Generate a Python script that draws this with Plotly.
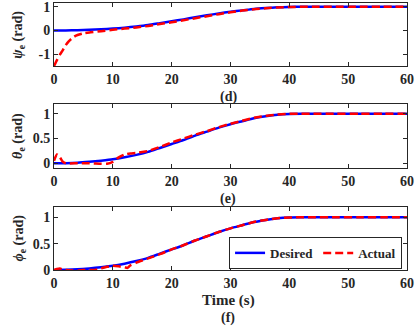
import plotly.graph_objects as go
from plotly.subplots import make_subplots

# desired trajectory (same for all three angles)
t_des = [0, 2, 4, 6, 8, 10, 12, 14, 16, 18, 20, 22, 24, 26, 28, 30, 32, 34, 36, 38, 40, 42, 44, 48, 52, 56, 60]
desired = [0, 0.003, 0.012, 0.03, 0.053, 0.08, 0.12, 0.17, 0.23, 0.31, 0.39, 0.47, 0.56, 0.64, 0.72, 0.79,
           0.85, 0.91, 0.95, 0.98, 0.995, 1.0, 1.0, 1.0, 1.0, 1.0, 1.0]

# actual psi_e
t_psi = [0, 0.5, 1, 1.5, 2, 2.5, 3, 3.5, 4, 5, 6, 8, 10, 12, 14, 16, 18, 20, 22, 24, 26, 28, 30, 32, 34, 36,
         38, 40, 42, 44, 48, 52, 56, 60]
psi_act = [-1.5, -1.25, -1.02, -0.83, -0.62, -0.46, -0.34, -0.25, -0.19, -0.12, -0.08, -0.03, 0.03, 0.08,
           0.13, 0.19, 0.27, 0.35, 0.43, 0.52, 0.6, 0.69, 0.77, 0.84, 0.9, 0.94, 0.975, 0.99, 1.0, 1.0, 1.0,
           1.0, 1.0, 1.0]

# actual theta_e
t_theta = [0, 0.5, 1, 1.5, 2, 4, 6, 8, 9, 10, 11, 12, 13, 14, 16, 18, 20, 22, 24, 26, 28, 30, 32, 34, 36,
           38, 40, 42, 44, 48, 52, 56, 60]
theta_act = [0.05, 0.18, 0.12, 0.03, 0.0, 0.0, 0.0, -0.01, -0.01, 0.03, 0.12, 0.18, 0.2, 0.21, 0.25, 0.33,
             0.42, 0.5, 0.58, 0.65, 0.73, 0.8, 0.86, 0.92, 0.96, 0.985, 1.0, 1.0, 1.0, 1.0, 1.0, 1.0, 1.0]

# actual phi_e
t_phi = [0, 0.5, 1, 1.5, 2, 3, 4, 5, 6, 7, 8, 9, 10, 11, 12, 12.5, 13, 14, 16, 18, 20, 22, 24, 26, 28, 30,
         32, 34, 36, 38, 40, 42, 44, 48, 52, 56, 60]
phi_act = [0.0, 0.02, 0.03, 0.01, 0.0, -0.01, -0.01, 0.0, 0.0, 0.0, 0.03, 0.06, 0.08, 0.07, 0.05, 0.04,
           0.09, 0.14, 0.22, 0.3, 0.39, 0.47, 0.56, 0.64, 0.72, 0.79, 0.85, 0.91, 0.95, 0.98, 0.995, 1.0,
           1.0, 1.0, 1.0, 1.0, 1.0]

panels = [
    (t_psi, psi_act, [-1.5, 1.15], [-1, 0, 1], ["-1", "0", "1"], "<i>ψ</i><sub>e</sub> (rad)", "(d)", -31),
    (t_theta, theta_act, [-0.09, 1.2], [0, 0.5, 1], ["0", "0.5", "1"], "<i>θ</i><sub>e</sub> (rad)", "(e)", -31),
    (t_phi, phi_act, [0, 1.2], [0, 0.5, 1], ["0", "0.5", "1"], "<i>ϕ</i><sub>e</sub> (rad)", "(f)", -48),
]

FONT = "Liberation Serif"
fig = make_subplots(rows=3, cols=1)
domains = [[0.764, 0.999], [0.383, 0.622], [0.0, 0.237]]

for i, (tt, act, yr, tv, tt_text, ylab, tag, tag_shift) in enumerate(panels):
    row = i + 1
    fig.add_trace(go.Scatter(x=t_des, y=desired, mode="lines", name="Desired",
                             line=dict(color="#0000ff", width=2.5, shape="spline", smoothing=0.6),
                             showlegend=(i == 2)), row=row, col=1)
    fig.add_trace(go.Scatter(x=tt, y=act, mode="lines", name="Actual",
                             line=dict(color="#ff0000", width=2.5, dash="8px,4px", shape="spline", smoothing=0.6),
                             showlegend=(i == 2)), row=row, col=1)
    fig.update_xaxes(range=[0, 60], tickvals=[0, 10, 20, 30, 40, 50, 60], row=row, col=1)
    fig.update_yaxes(range=yr, tickvals=tv, ticktext=tt_text, domain=domains[i], row=row, col=1)
    d = domains[i]
    fig.add_annotation(x=-0.099, y=(d[0] + d[1]) / 2, xref="paper", yref="paper", text=ylab,
                       textangle=-90, showarrow=False, xanchor="center", yanchor="middle",
                       font=dict(family=FONT, size=14, color="#262626", weight="bold"))
    fig.add_annotation(x=0.493, y=d[0], xref="paper", yref="paper", yshift=tag_shift, text=tag,
                       showarrow=False, xanchor="center", yanchor="middle",
                       font=dict(family=FONT, size=14, color="#262626", weight="bold"))

fig.update_xaxes(showline=True, linecolor="#262626", linewidth=1, mirror="ticks", ticks="inside",
                 ticklen=4, tickcolor="#262626", showgrid=False, zeroline=False, automargin=False,
                 ticklabeloverflow="allow",
                 tickfont=dict(family=FONT, size=14, color="#262626", weight="bold"))
fig.update_yaxes(showline=True, linecolor="#262626", linewidth=1, mirror="ticks", ticks="inside",
                 ticklen=4, tickcolor="#262626", showgrid=False, zeroline=False, automargin=False,
                 ticklabeloverflow="allow",
                 tickfont=dict(family=FONT, size=14, color="#262626", weight="bold"))

fig.add_annotation(x=0.493, y=0, xref="paper", yref="paper", yshift=-30, text="Time (s)",
                   showarrow=False, xanchor="center", yanchor="middle",
                   font=dict(family=FONT, size=15, color="#262626", weight="bold"))

fig.update_layout(
    width=415, height=327,
    margin=dict(l=54, r=8, t=3, b=57, autoexpand=False),
    plot_bgcolor="white", paper_bgcolor="white",
    font=dict(family=FONT, size=14, color="#262626", weight="bold"),
    legend=dict(orientation="h", x=0.986, xanchor="right", y=0.004, yanchor="bottom",
                bgcolor="white", bordercolor="#262626", borderwidth=1,
                font=dict(family=FONT, size=13, color="#262626", weight="bold"),
                tracegroupgap=0, itemwidth=30),
)

# drop the browser's default body margin so the figure sits at the page corner
fig.write_html("out.html", config={"displayModeBar": False},
               post_script="document.body.style.margin='0';")
